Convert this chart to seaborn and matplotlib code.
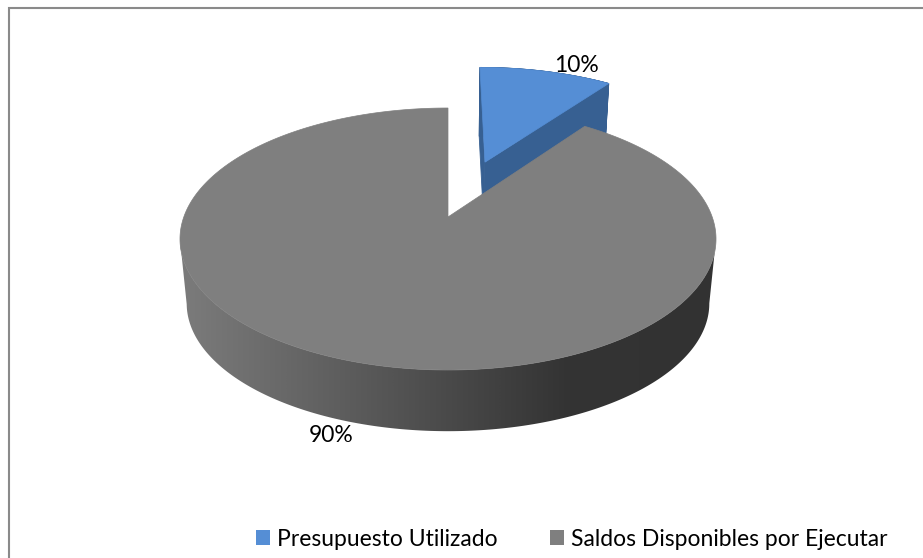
import numpy as np
import matplotlib
matplotlib.use("Agg")
import matplotlib.pyplot as plt
from matplotlib.lines import Line2D
from matplotlib.patches import Patch, Polygon
from matplotlib.colors import LinearSegmentedColormap
import seaborn as sns

categories = ["Presupuesto Utilizado", "Saldos Disponibles por Ejecutar"]
values = [10, 90]
explode = [0.488, 0.0]
top_colors = ["#558ED5", "#7F7F7F"]
side_blue = "#376092"

sns.set_theme(style="white")
plt.rcParams["font.family"] = ["Lato", "DejaVu Sans"]

W, H = 923, 558
fig = plt.figure(figsize=(W / 100, H / 100), dpi=100, facecolor="white")
ax = fig.add_axes([0, 0, 1, 1])

wedges, _, autotexts = ax.pie(values, explode=explode, startangle=90, counterclock=False,
                              colors=top_colors, autopct="%.0f%%", radius=1.0)

# perspective view of the unit pie
AX, AY, A, B, K = 448.0, 217.0, 264.2, 127.3, 0.168
DEPTH, SHRINK = 65.0, 0.975


def project(pts, lower=False):
    x, y = pts[:, 0], pts[:, 1]
    w = 1 + K * y
    sx, sy = A * x / w, B * y / w
    if lower:
        return np.column_stack([AX + SHRINK * sx, AY - SHRINK * sy + DEPTH])
    return np.column_stack([AX + sx, AY - sy])


def outline(wedge):
    t = np.radians(np.linspace(wedge.theta1, wedge.theta2, 500))
    c = np.asarray(wedge.center)
    arc = c + wedge.r * np.column_stack([np.cos(t), np.sin(t)])
    return np.vstack([c, arc, c])


wall_cmap = LinearSegmentedColormap.from_list(
    "wall", [(0.0, "#7C7C7C"), (0.50, "#4A4A4A"), (0.72, "#343434"), (1.0, "#323232")])

blue_pts, gray_pts = outline(wedges[0]), outline(wedges[1])

# exploded slice: cut face swept downwards, top face over it
b_up, b_lo = project(blue_pts), project(blue_pts, lower=True)
for i in range(len(b_up) - 1):
    ax.add_patch(Polygon([b_up[i], b_up[i + 1], b_lo[i + 1], b_lo[i]], closed=True,
                         fc=side_blue, ec=side_blue, lw=0.6, zorder=2))
ax.add_patch(Polygon(b_up, closed=True, fc=top_colors[0], ec=top_colors[0], lw=0.5, zorder=3))

# main slice: near wall with a left-to-right shading, top face over it
g_up, g_lo = project(gray_pts), project(gray_pts, lower=True)
arc_up, arc_lo = g_up[1:-1], g_lo[1:-1]
i_a, i_b = sorted([int(np.argmax(arc_up[:, 0])), int(np.argmin(arc_up[:, 0]))])
wall = np.vstack([arc_up[i_a:i_b + 1], arc_lo[i_a:i_b + 1][::-1]])
wall_patch = Polygon(wall, closed=True, fc="none", ec="none", transform=ax.transData)
ax.add_patch(wall_patch)
grad = ax.imshow(np.linspace(0, 1, 512)[None, :], cmap=wall_cmap, extent=(178, 715, 445, 230),
                 aspect="auto", zorder=4, interpolation="bilinear")
grad.set_clip_path(wall_patch)
ax.add_patch(Polygon(g_up, closed=True, fc=top_colors[1], ec=top_colors[1], lw=0.5, zorder=5))
for w in wedges:
    w.set_visible(False)

label_xy = [(576.5, 65), (331, 435)]
for t, xy in zip(autotexts, label_xy):
    t.set_position(xy)
    t.set_fontsize(16.5)
    t.set_color("black")
    t.set_ha("center")
    t.set_va("center")
    t.set_zorder(8)

ax.set_xlim(0, W)
ax.set_ylim(H, 0)
ax.set_aspect("auto")
ax.axis("off")

# chart frame: only the top and left edges fall inside the picture
fig.add_artist(Line2D([9 / W, 9 / W, 1], [0, 1 - 8 / H, 1 - 8 / H], transform=fig.transFigure,
                      color="#8A8A8A", lw=1.5, solid_joinstyle="miter"))

handles = [Patch(fc=c, ec=c, lw=0, label=n) for c, n in zip(top_colors, categories)]
fig.legend(handles=handles, loc="center", bbox_to_anchor=(572 / W, 1 - 539 / H), ncol=2,
           frameon=False, fontsize=16.5, handlelength=0.61, handleheight=0.61, handletextpad=0.3,
           columnspacing=2.3, borderpad=0, labelcolor="black")

fig.savefig("out.png", dpi=100, facecolor="white")
